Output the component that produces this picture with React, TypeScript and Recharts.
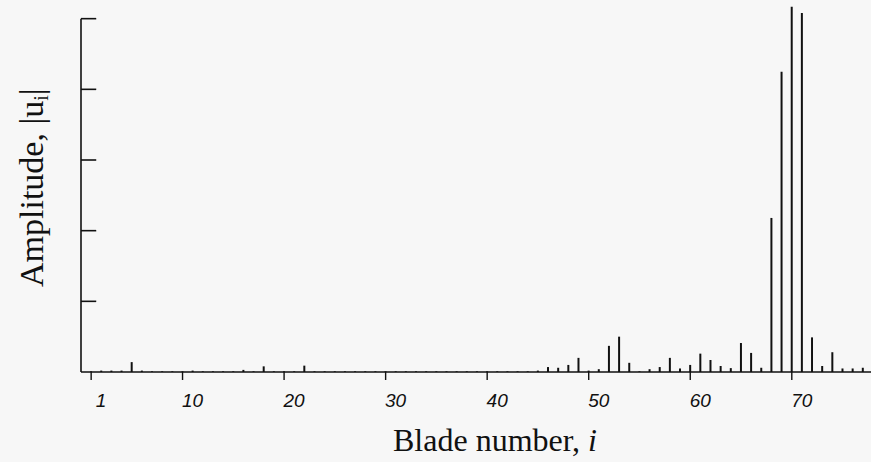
import React from 'react';
import { ComposedChart, Bar, XAxis, YAxis, ReferenceLine, Label } from 'recharts';

// blade amplitudes |u_i|, blade 1 .. 77
const amplitudes = [
  0.01, 0.02, 0.02, 0.02, 0.14, 0.02, 0.01, 0.01, 0.01, 0.01,
  0.02, 0.01, 0.01, 0.01, 0.01, 0.03, 0.01, 0.08, 0.01, 0.01,
  0.01, 0.09, 0.01, 0.01, 0.01, 0.01, 0.01, 0.01, 0.01, 0.01,
  0.01, 0.01, 0.01, 0.01, 0.01, 0.01, 0.01, 0.01, 0.01, 0.01,
  0.01, 0.01, 0.01, 0.01, 0.02, 0.07, 0.06, 0.1, 0.2, 0.02,
  0.04, 0.37, 0.5, 0.13, 0.01, 0.04, 0.07, 0.2, 0.05, 0.1,
  0.26, 0.17, 0.085, 0.055, 0.41, 0.27, 0.06, 2.18, 4.25, 5.17,
  5.08, 0.49, 0.085, 0.28, 0.05, 0.05, 0.06,
];

const xTicks = [1, 10, 20, 30, 40, 50, 60, 70];
const yTicks = [0, 1, 2, 3, 4, 5];

const data = amplitudes.map((amp, i) => ({ blade: i + 1, amp }));

const INK = '#111';
const SERIF = "'Liberation Serif', 'Times New Roman', serif";

function BladeTick({ x, y, payload }: any) {
  return (
    <text
      x={x + 10}
      y={y}
      dy={25}
      textAnchor="middle"
      fontFamily="'Liberation Sans', Arial, sans-serif"
      fontStyle="italic"
      fontSize={19}
      fill={INK}
    >
      {payload.value}
    </text>
  );
}

export default function App() {
  return (
    <div style={{ position: 'absolute', left: 0, top: 0, width: 871, height: 462, background: '#f7f7f7' }}>
      <ComposedChart
        width={871}
        height={462}
        data={data}
        margin={{ top: 1, right: 0, bottom: 30, left: 0 }}
      >
        <XAxis
          dataKey="blade"
          type="number"
          domain={[0, 77.8]}
          ticks={xTicks}
          allowDataOverflow
          height={60}
          tickSize={8}
          axisLine={{ stroke: INK, strokeWidth: 1.6 }}
          tickLine={{ stroke: INK, strokeWidth: 1.4 }}
          tick={<BladeTick />}
        >
          <Label
            content={() => (
              <text x={495} y={451} textAnchor="middle" fontFamily={SERIF} fontSize={32} fill={INK}>
                Blade number, <tspan fontStyle="italic">i</tspan>
              </text>
            )}
          />
        </XAxis>
        <YAxis
          type="number"
          domain={[0, 5.25]}
          ticks={yTicks}
          allowDataOverflow
          width={81}
          axisLine={false}
          tickLine={false}
          tick={false}
        >
          <Label
            content={() => (
              <text
                x={43}
                y={287}
                transform="rotate(-90 43 287)"
                textAnchor="start"
                fontFamily={SERIF}
                fontSize={34}
                fill={INK}
              >
                Amplitude, |u
                <tspan fontSize={20} dy={5}>i</tspan>
                <tspan dy={-5}>|</tspan>
              </text>
            )}
          />
        </YAxis>
        {/* left axis spans only 0..5, ticks point inward */}
        <ReferenceLine segment={[{ x: 0, y: 0 }, { x: 0, y: 5 }]} stroke={INK} strokeWidth={1.6} />
        {yTicks.slice(1).map((t) => (
          <ReferenceLine
            key={t}
            segment={[{ x: 0, y: t }, { x: 1.5, y: t }]}
            stroke={INK}
            strokeWidth={1.6}
          />
        ))}
        <Bar dataKey="amp" fill={INK} barSize={2} isAnimationActive={false} />
      </ComposedChart>
    </div>
  );
}
